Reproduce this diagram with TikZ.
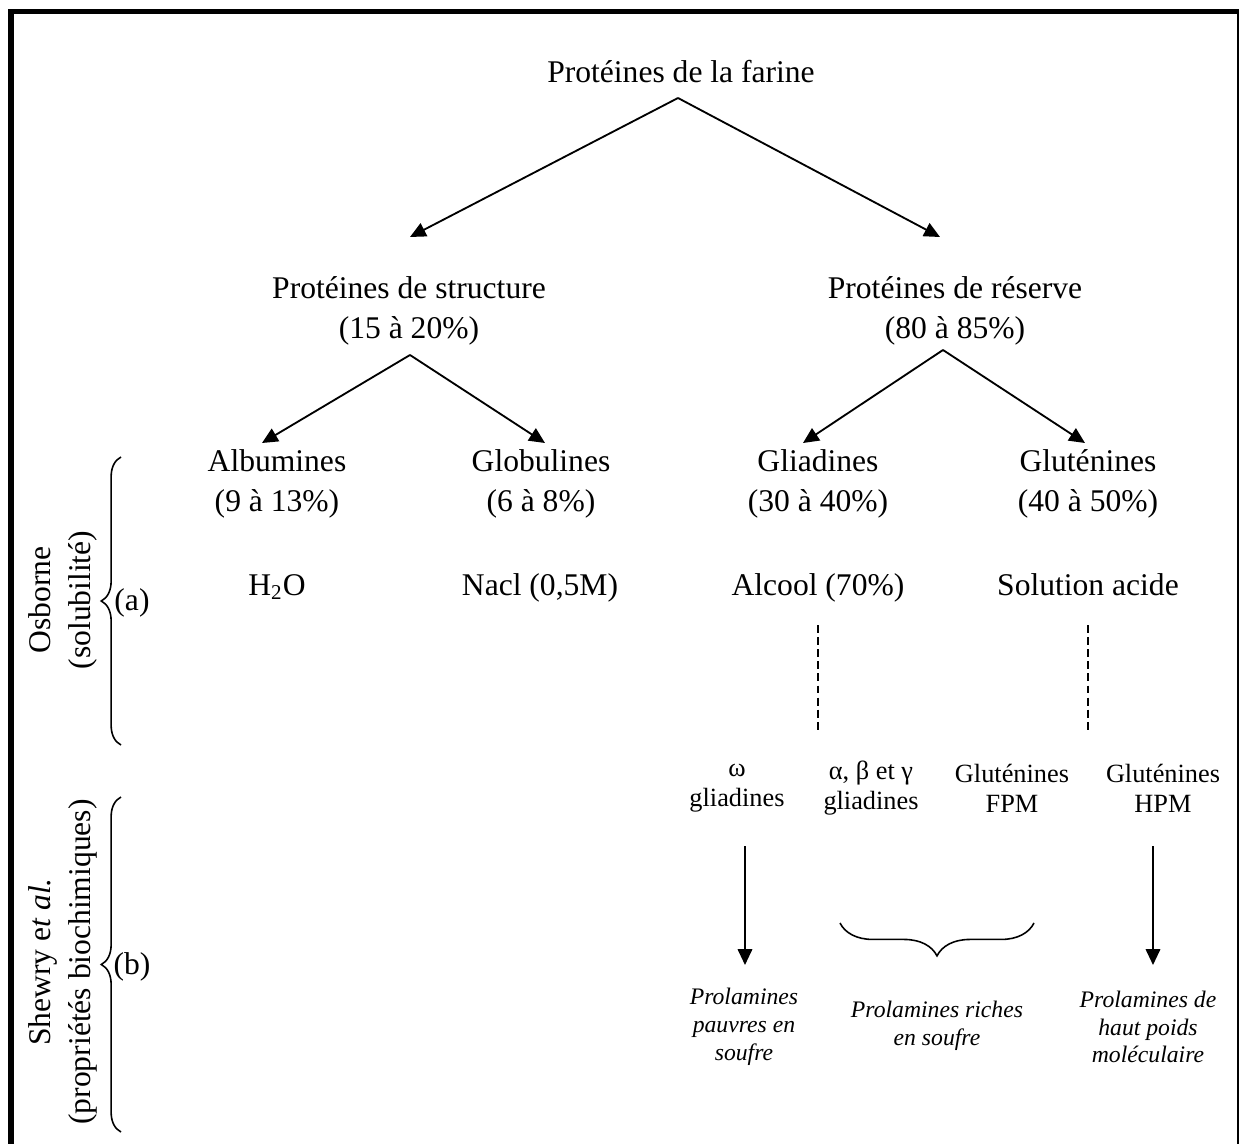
\documentclass[tikz,border=0pt]{standalone}
\usepackage{fontspec}
\setmainfont{Liberation Serif}
\usetikzlibrary{arrows.meta,decorations.pathreplacing}

\begin{document}
\begin{tikzpicture}[x=0.38pt, y=-0.38pt,
	titre/.style={align=center, inner sep=0pt, font=\fontsize{12}{15.2}\selectfont},
	petit/.style={align=center, inner sep=0pt, font=\fontsize{10}{11.4}\selectfont},
	prolam/.style={align=center, inner sep=0pt, font=\fontsize{9}{10.6}\selectfont\itshape},
	fleche/.style={line width=0.7pt, -{Triangle[length=6pt, width=5.5pt]}},
	pointille/.style={line width=0.7pt, dash pattern=on 3pt off 1.6pt},
	accol/.style={line width=0.6pt, decorate, decoration={brace, amplitude=#1}}]
	\useasboundingbox (0,0) rectangle (1239,1144);
	\clip (0,0) rectangle (1239,1144);
	% cadre
	\draw[line width=2.1pt] (11,11.5) rectangle (1239.5,1170);

	% niveaux 1 et 2
	\node[titre, anchor=base] (farine) at (681,83) {Protéines de la farine};
	\node[titre] (struct) at (409,311) {Protéines de structure\\(15 à 20\%)};
	\node[titre] (reserve) at (955,311) {Protéines de réserve\\(80 à 85\%)};
	\coordinate (f0) at (678,98);
	\coordinate (f1) at (410,237);
	\coordinate (f2) at (940,237);
	\draw[fleche] (f0) -- (f1);
	\draw[fleche] (f0) -- (f2);

	% Osborne
	\node[titre] (alb) at (277,484) {Albumines\\(9 à 13\%)};
	\node[titre] (glob) at (541,484) {Globulines\\(6 à 8\%)};
	\node[titre] (glia) at (818,484) {Gliadines\\(30 à 40\%)};
	\node[titre] (glut) at (1088,484) {Gluténines\\(40 à 50\%)};
	\coordinate (s0) at (410,355);
	\coordinate (s1) at (262,443);
	\coordinate (s2) at (545,443);
	\coordinate (r0) at (943,350);
	\coordinate (r1) at (803,443);
	\coordinate (r2) at (1085,443);
	\foreach \haut/\bas in {s0/s1, s0/s2, r0/r1, r0/r2}
		\draw[fleche] (\haut) -- (\bas);

	\node[titre, anchor=base] (eau) at (277,595) {H\textsubscript{2}O};
	\node[titre, anchor=base] (nacl) at (540,595) {Nacl (0,5M)};
	\node[titre, anchor=base] (alcool) at (818,595) {Alcool (70\%)};
	\node[titre, anchor=base] (acide) at (1088,595) {Solution acide};
	\coordinate (d1) at (818,625);
	\coordinate (d2) at (818,730);
	\coordinate (d3) at (1088,625);
	\coordinate (d4) at (1088,730);
	\draw[pointille] (d1) -- (d2);
	\draw[pointille] (d3) -- (d4);

	% Shewry
	\node[petit] (omega) at (737,788) {ω\\gliadines};
	\node[petit] (abg) at (871,788) {α, β et γ\\gliadines};
	\node[petit] (fpm) at (1012,788) {Gluténines\\FPM};
	\node[petit] (hpm) at (1163,788) {Gluténines\\HPM};
	\coordinate (p1) at (745,846);
	\coordinate (p2) at (745,965);
	\coordinate (p3) at (1153,846);
	\coordinate (p4) at (1153,965);
	\draw[fleche] (p1) -- (p2);
	\draw[fleche] (p3) -- (p4);
	\draw[accol=12.5pt] (1034,923) -- (840,923);

	\node[prolam] (pauvre) at (744,1027) {Prolamines\\pauvres en\\soufre};
	\node[prolam] (riche) at (937,1026) {Prolamines riches\\en soufre};
	\node[prolam] (hpoids) at (1148,1027) {Prolamines de\\haut poids\\moléculaire};

	% classements
	\node[titre, rotate=90] (osb) at (63,600) {Osborne\\(solubilité)};
	\node[titre, rotate=90] (shew) at (63,962) {Shewry e\textit{t al.}\\(propriétés biochimiques)};
	\draw[accol=7.5pt] (121,745) -- (121,457);
	\draw[accol=7.5pt] (121,1132) -- (121,797);
	\node[titre] (a) at (132,603) {(a)};
	\node[titre] (b) at (132,967) {(b)};
\end{tikzpicture}
\end{document}
